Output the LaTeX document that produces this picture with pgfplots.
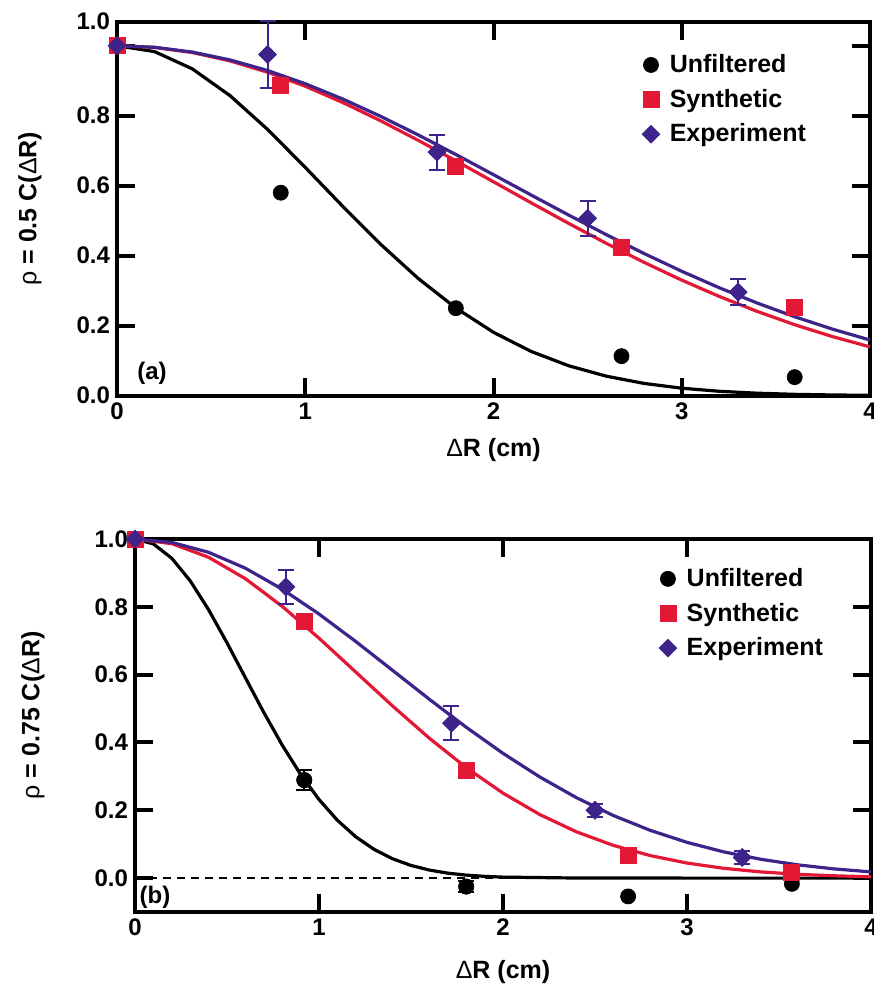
\documentclass[border=0pt]{standalone}
\usepackage{pgfplots}
\pgfplotsset{compat=1.18}
\usepackage{fontspec}
\setmainfont{Liberation Sans}
\definecolor{myred}{RGB}{226,24,52}
\definecolor{mypurple}{RGB}{62,36,138}
\pgfplotsset{
 panel/.style={scale only axis, xmin=0, xmax=4, clip=false,
   axis line style={line width=2pt}, every tick/.style={line width=2pt,black},
   major tick length=9pt, tick align=inside,
   xtick={0,1,2,3,4}, xticklabels={0,1,2,3,4},
   tick label style={font=\bfseries\fontsize{12}{14}\selectfont},
   label style={font=\bfseries\fontsize{12.5}{15}\selectfont},
   legend style={draw=none, fill=none, font=\bfseries\fontsize{12.5}{15}\selectfont, anchor=north west, row sep=2.75pt,
     /tikz/every odd column/.append style={column sep=3pt}},
   legend cell align=left},
 curve/.style={no marks, line width=1.6pt, forget plot},
 unf/.style={only marks, mark=*, mark size=3.75pt, black},
 syn/.style={only marks, mark=square*, mark size=4pt, myred, mark options={draw=myred, fill=myred}},
 expm/.style={only marks, mark=square*, mark size=3.1pt, mypurple, mark options={draw=mypurple, fill=mypurple, rotate=45}},
 errs/.style={forget plot, error bars/.cd, y dir=both, y explicit,
   error bar style={line width=1pt}, error mark options={rotate=90, mark size=4pt, line width=1pt}},
}
\begin{document}
\begin{tikzpicture}
\useasboundingbox (0,0) rectangle (436.5pt,-492pt);
% ---------------- panel (a)
\begin{axis}[panel, at={(58.5pt,-10.85pt)}, anchor=north west,
  width=376.5pt, height=187pt, ymin=0, ymax=1.0686,
  ytick={0,0.2,0.4,0.6,0.8,1.0}, yticklabels={0.0,0.2,0.4,0.6,0.8,{}},
  extra y ticks={1.0686}, extra y tick labels={1.0}, extra y tick style={major tick length=0pt},
  xlabel={{\mdseries Δ}R (cm)}, xlabel style={at={(rel axis cs:0.5,0)}, anchor=center, yshift=-27pt},
  ylabel={{\mdseries ρ} = 0.5 C({\mdseries Δ}R)}, ylabel style={at={(rel axis cs:0,0.5)}, anchor=center, yshift=43.5pt},
  legend style={at={(rel axis cs:0.689,0.935)}},
  legend entries={Unfiltered,Synthetic,Experiment}]
\addplot[curve, black] coordinates {(0,1)(0.2,0.9831)(0.4,0.9339)(0.6,0.8575)(0.8,0.7608)(1.0,0.6523)(1.2,0.5406)(1.4,0.4329)(1.6,0.3350)(1.8,0.2506)(2.0,0.1811)(2.2,0.1265)(2.4,0.0854)(2.6,0.0557)(2.8,0.0351)(3.0,0.0214)(3.2,0.0126)(3.4,0.0072)(3.6,0.0039)(3.8,0.0021)(4.0,0.0011)};
\addplot[curve, myred] coordinates {(0,1)(0.2,0.9951)(0.4,0.9805)(0.6,0.9566)(0.8,0.9242)(1.0,0.8842)(1.2,0.8375)(1.4,0.7856)(1.6,0.7297)(1.8,0.6711)(2.0,0.6112)(2.2,0.5511)(2.4,0.4921)(2.6,0.4351)(2.8,0.3809)(3.0,0.3302)(3.2,0.2835)(3.4,0.2410)(3.6,0.2028)(3.8,0.1690)(4.0,0.1395)};
\addplot[curve, mypurple] coordinates {(0,1)(0.2,0.9954)(0.4,0.9818)(0.6,0.9595)(0.8,0.9291)(1.0,0.8914)(1.2,0.8475)(1.4,0.7983)(1.6,0.7451)(1.8,0.6892)(2.0,0.6315)(2.2,0.5734)(2.4,0.5159)(2.6,0.4599)(2.8,0.4062)(3.0,0.3555)(3.2,0.3083)(3.4,0.2649)(3.6,0.2256)(3.8,0.1903)(4.0,0.1591)};
\addplot[unf] coordinates {(0,1.0)(0.87,0.58)(1.8,0.25)(2.68,0.113)(3.6,0.053)};
\addplot[syn] coordinates {(0,1.0)(0.87,0.888)(1.8,0.656)(2.68,0.425)(3.6,0.252)};
\addplot[expm] coordinates {(0,1.0)(0.8,0.975)(1.7,0.696)(2.5,0.507)(3.3,0.296)};
\addplot[expm, errs] coordinates {(0.8,0.975) +- (0,0.095) (1.7,0.696) +- (0,0.05) (2.5,0.507) +- (0,0.05) (3.3,0.296) +- (0,0.037)};
\node[font=\bfseries\fontsize{12}{14}\selectfont] at (axis cs:0.186,0.065) {(a)};
\end{axis}
% ---------------- panel (b)
\begin{axis}[panel, at={(67.5pt,-269.5pt)}, anchor=north west,
  width=368pt, height=186.5pt, ymin=-0.1, ymax=1.0,
  ytick={0,0.2,0.4,0.6,0.8,1.0}, yticklabels={0.0,0.2,0.4,0.6,0.8,1.0},
  xlabel={{\mdseries Δ}R (cm)}, xlabel style={at={(rel axis cs:0.5,0)}, anchor=center, yshift=-30pt},
  ylabel={{\mdseries ρ} = 0.75 C({\mdseries Δ}R)}, ylabel style={at={(rel axis cs:0,0.527)}, anchor=center, yshift=51pt},
  legend style={at={(rel axis cs:0.7035,0.944)}},
  legend entries={Unfiltered,Synthetic,Experiment}]
\addplot[forget plot, black, line width=1pt, dash pattern=on 4pt off 3pt] coordinates {(0,0)(4,0)};
\addplot[curve, black] coordinates {(0,1)(0.1,0.9855)(0.2,0.9432)(0.3,0.8767)(0.4,0.7914)(0.5,0.6938)(0.6,0.5908)(0.7,0.4885)(0.8,0.3923)(0.9,0.3060)(1.0,0.2318)(1.1,0.1705)(1.2,0.1218)(1.3,0.0845)(1.4,0.0570)(1.5,0.0373)(1.6,0.0237)(1.7,0.0146)(1.8,0.0088)(1.9,0.0051)(2.0,0.0029)(2.4,0.0002)(3.0,0)(4.0,0)};
\addplot[curve, myred] coordinates {(0,1)(0.2,0.9863)(0.4,0.9461)(0.6,0.8829)(0.8,0.8014)(1.0,0.7075)(1.2,0.6076)(1.4,0.5075)(1.6,0.4124)(1.8,0.3259)(2.0,0.2506)(2.2,0.1874)(2.4,0.1363)(2.6,0.0964)(2.8,0.0664)(3.0,0.0444)(3.2,0.0289)(3.4,0.0183)(3.6,0.0113)(3.8,0.0068)(4.0,0.0039)};
\addplot[curve, mypurple] coordinates {(0,1)(0.2,0.9900)(0.4,0.9608)(0.6,0.9139)(0.8,0.8521)(1.0,0.7788)(1.2,0.6977)(1.4,0.6126)(1.6,0.5273)(1.8,0.4449)(2.0,0.3679)(2.2,0.2982)(2.4,0.2369)(2.6,0.1845)(2.8,0.1409)(3.0,0.1054)(3.2,0.0773)(3.4,0.0556)(3.6,0.0392)(3.8,0.0271)(4.0,0.0183)};
\addplot[unf] coordinates {(0,1.0)(0.92,0.289)(1.8,-0.025)(2.68,-0.054)(3.57,-0.017)};
\addplot[unf, errs] coordinates {(0.92,0.289) +- (0,0.03) (1.8,-0.025) +- (0,0.015)};
\addplot[syn] coordinates {(0,1.0)(0.92,0.756)(1.8,0.318)(2.68,0.067)(3.57,0.017)};
\addplot[expm] coordinates {(0,1.0)(0.82,0.859)(1.72,0.457)(2.5,0.2)(3.3,0.061)};
\addplot[expm, errs] coordinates {(0.82,0.859) +- (0,0.05) (1.72,0.457) +- (0,0.05) (2.5,0.2) +- (0,0.02) (3.3,0.061) +- (0,0.02)};
\node[font=\bfseries\fontsize{12}{14}\selectfont] at (axis cs:0.109,-0.057) {(b)};
\end{axis}
\end{tikzpicture}
\end{document}
